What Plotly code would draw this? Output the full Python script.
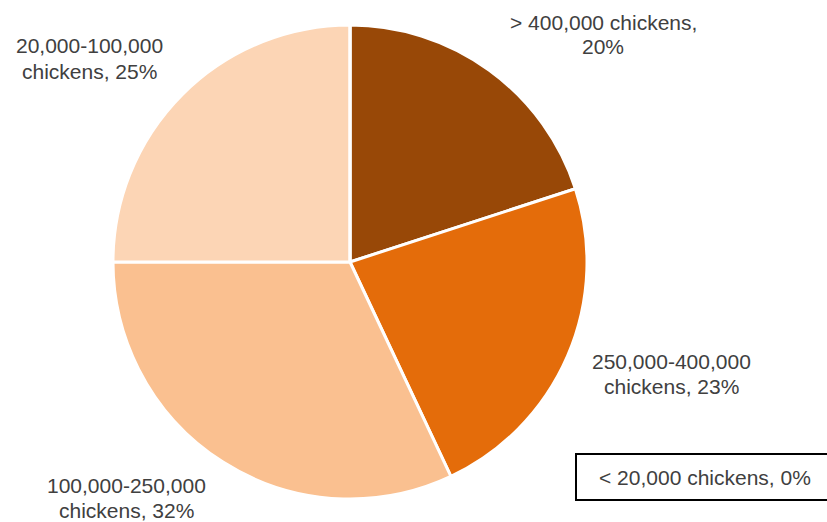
import plotly.graph_objects as go

# Share of farms by flock size
categories = [
    "> 400,000 chickens",
    "250,000-400,000 chickens",
    "100,000-250,000 chickens",
    "20,000-100,000 chickens",
    "< 20,000 chickens",
]
shares = [20, 23, 32, 25, 0]
colors = ["#984807", "#E46C0A", "#FAC090", "#FCD5B5", "#FFFFFF"]

# Label text per slice (line-broken as drawn)
label_lines = [
    ["> 400,000 chickens,", "20%"],
    ["250,000-400,000", "chickens, 23%"],
    ["100,000-250,000", "chickens, 32%"],
    ["20,000-100,000", "chickens, 25%"],
    ["< 20,000 chickens, 0%"],
]

W, H = 827, 522
TEXT_COLOR = "#404040"
FONT = "Liberation Sans, Arial, sans-serif"
LINE_GAP = 25  # px between text lines

fig = go.Figure(
    go.Pie(
        labels=categories,
        values=shares,
        sort=False,
        direction="clockwise",
        rotation=0,
        marker=dict(colors=colors, line=dict(color="white", width=3)),
        textinfo="none",
        hoverinfo="label+percent",
        showlegend=False,
        domain=dict(x=[113 / W, 587 / W], y=[(H - 499) / H, (H - 25) / H]),
    )
)

# centre of the first line of each label (pixels from top-left)
label_pos = [(603, 22), (671, 361), (127, 485), (89, 46), (705, 477)]

for lines, (px, py) in zip(label_lines, label_pos):
    for i, line in enumerate(lines):
        fig.add_annotation(
            text=line,
            x=px / W, y=1 - (py + i * LINE_GAP) / H,
            xref="paper", yref="paper",
            xanchor="center", yanchor="middle",
            showarrow=False, align="center",
            font=dict(family=FONT, size=21, color=TEXT_COLOR),
        )

# frame around the zero-share label
fig.add_shape(
    type="rect", xref="paper", yref="paper",
    x0=576 / W, x1=1.02, y0=1 - 500 / H, y1=1 - 454 / H,
    line=dict(color="black", width=2), fillcolor="rgba(0,0,0,0)",
)

fig.update_layout(
    width=W, height=H,
    margin=dict(l=0, r=0, t=0, b=0),
    paper_bgcolor="white",
    plot_bgcolor="white",
)

fig.write_html("out.html")
